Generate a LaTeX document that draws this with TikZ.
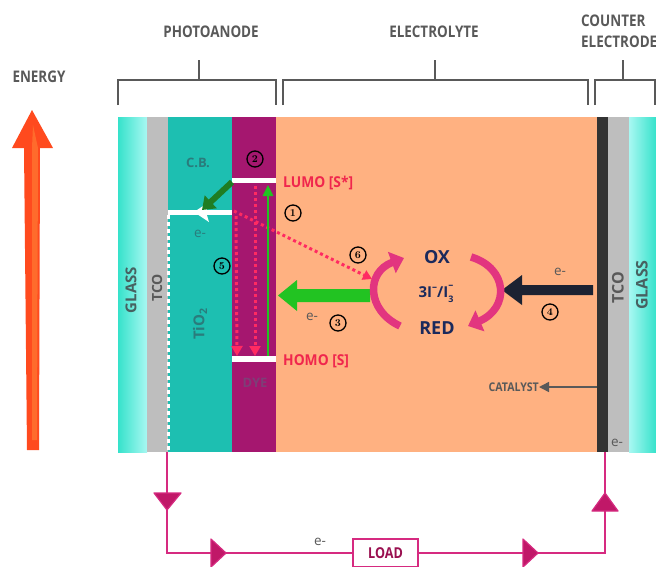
\documentclass[tikz,border=0pt]{standalone}
\usepackage{fontspec}
\usepackage{graphicx}
\setsansfont{Open Sans}
\usetikzlibrary{arrows.meta}
\definecolor{glassA}{HTML}{36E2CB}
\definecolor{glassB}{HTML}{A8F8F2}
\definecolor{tco}{HTML}{BEBEBE}
\definecolor{tio}{HTML}{1DBFB1}
\definecolor{dye}{HTML}{A5176F}
\definecolor{elec}{HTML}{FFB181}
\definecolor{cat}{HTML}{333333}
\definecolor{circ}{HTML}{D62A80}
\definecolor{tri}{HTML}{C01868}
\definecolor{lblgray}{HTML}{595959}
\definecolor{navy}{HTML}{1B2A5C}
\definecolor{lumored}{HTML}{F0264D}
\definecolor{dotred}{HTML}{FF2A62}
\definecolor{brgreen}{HTML}{22C322}
\definecolor{dkgreen}{HTML}{1F7D22}
\definecolor{darkarrow}{HTML}{1C2232}
\definecolor{curv}{HTML}{E2357F}
\definecolor{energyA}{HTML}{FF4A1E}
\definecolor{energyB}{HTML}{FF6B2C}
\definecolor{tealtxt}{HTML}{2A7C7C}
\definecolor{dyetxt}{HTML}{7E3E77}
\definecolor{loadtxt}{HTML}{9A1050}
\newcommand{\cnd}[2][0.84]{\scalebox{#1}[1]{#2}}
\begin{document}
\begin{tikzpicture}[x=1pt,y=-1pt,
  head/.style={font=\sffamily\bfseries\fontsize{16}{16}\selectfont, text=lblgray, inner sep=0pt},
  bracket/.style={draw=lblgray, line width=2.4pt},
  num/.style={circle, draw=black, line width=1.3pt, minimum size=16pt, inner sep=0pt, font=\rmfamily\bfseries\fontsize{10.5}{10.5}\selectfont},
  elab/.style={font=\sffamily\fontsize{13.5}{13.5}\selectfont, text=lblgray, inner sep=0pt},
  rotlab/.style={font=\sffamily\bfseries\fontsize{14}{14}\selectfont, rotate=90, inner sep=0pt},
  lvl/.style={font=\sffamily\bfseries\fontsize{15}{15}\selectfont, text=lumored, inner sep=0pt, anchor=west},
  redox/.style={font=\sffamily\bfseries\fontsize{18}{18}\selectfont, text=navy, inner sep=0pt},
  dotline/.style={draw=dotred, line width=3pt, dash pattern=on 3pt off 3pt},
  circwire/.style={draw=circ, line width=2.5pt},
  tritip/.style={fill=tri, draw=circ, line width=1.2pt, line join=round}
]
\useasboundingbox (0,0) rectangle (656,566);

% ---------- layers ----------
\fill[left color=glassA, right color=glassB] (118,117) rectangle (147,452);
\fill[tco] (147,117) rectangle (168,452);
\fill[tio] (168,117) rectangle (232,452);
\fill[dye] (232,117) rectangle (276,452);
\fill[elec] (276,117) rectangle (597,452);
\fill[cat] (597,117) rectangle (608,452);
\fill[tco] (608,117) rectangle (629,452);
\fill[left color=glassB, right color=glassA] (629,117) rectangle (656,452);

% ---------- energy arrow ----------
\fill[energyA] (32,110) -- (53,148) -- (40,148) -- (39,450) -- (27,450) -- (24,148) -- (12,148) -- cycle;
\fill[energyB] (33,125) -- (38,148) -- (37,440) -- (32,440) -- (32,148) -- cycle;
\node[head] (energy) at (39,77) {\cnd{ENERGY}};

% ---------- brackets ----------
\node[head] (photo) at (211,32) {\cnd{PHOTOANODE}};
\node[head] (electro) at (434,32) {\cnd{ELECTROLYTE}};
\node[head, anchor=west] (counter) at (581,21) {\cnd{COUNTER}};
\node[head, anchor=west] (celec) at (581,42) {\cnd{ELECTRODE}};
\draw[bracket] (118,105) -- (118,80) -- (276,80) -- (276,105);
\draw[bracket] (199,60) -- (199,80);
\draw[bracket] (283,105) -- (283,80) -- (588,80) -- (588,105);
\draw[bracket] (435,60) -- (435,80);
\draw[bracket] (595,105) -- (595,80) -- (655,80) -- (655,105);
\draw[bracket] (623,60) -- (623,80);

% ---------- layer labels ----------
\node[rotlab, text=lblgray!80!teal, font=\sffamily\bfseries\fontsize{15}{15}\selectfont] (glassL) at (131,290) {GLASS};
\node[rotlab, text=lblgray] (tcoL) at (157,288) {TCO};
\node[rotlab, text=tealtxt, font=\sffamily\bfseries\fontsize{15}{15}\selectfont] (tioL) at (200,324) {TiO\textsubscript{2}};
\node[rotlab, text=lblgray, font=\sffamily\bfseries\fontsize{16}{16}\selectfont] (tcoR) at (618,288) {TCO};
\node[rotlab, text=lblgray!80!teal, font=\sffamily\bfseries\fontsize{16}{16}\selectfont] (glassR) at (642,285) {GLASS};
\node[font=\sffamily\bfseries\fontsize{13}{13}\selectfont, text=dyetxt, inner sep=0pt] (dyeL) at (255,383) {DYE};
\node[font=\sffamily\bfseries\fontsize{13}{13}\selectfont, text=tealtxt, inner sep=0pt] (cb) at (198,163) {C.B.};
\node[elab, text=tealtxt] (ecb) at (200,234) {e-};

% ---------- energy levels ----------
\draw[white, line width=5pt] (232,180) -- (276,180);
\draw[white, line width=6pt] (232,359) -- (276,359);
\node[lvl] (lumo) at (283,183) {\cnd[0.92]{LUMO [S*]}};
\node[lvl] (homo) at (283,361) {\cnd[0.92]{HOMO [S]}};

% conduction band line with arrow
\draw[white, line width=5pt] (168,212) -- (232,212);
\fill[white] (194,212) -- (209,202) -- (206,212) -- (209,222) -- cycle;
\draw[white, line width=3pt, dash pattern=on 4pt off 3pt] (168,215) -- (168,452);

% dark green injection arrow
\coordinate (injS) at (232,182);
\coordinate (injE) at (202,210);
\draw[dkgreen, line width=6pt, -{Triangle[length=12pt,width=17pt]}] (injS) -- (injE);

% ---------- dotted red recombination lines ----------
\coordinate (rS) at (234,211);
\coordinate (rE) at (372,279);
\draw[dotline, -{Triangle[length=9pt,width=10pt]}] (rS) -- (rE);
\draw[dotline, -{Triangle[length=10pt,width=11pt]}] (236,216) -- (237,356);
\draw[dotline, -{Triangle[length=10pt,width=11pt]}] (255,186) -- (255,356);

% green excitation arrow
\draw[brgreen, line width=2.5pt, -{Triangle[length=11pt,width=10pt]}] (268,356) -- (268,185);

% ---------- big arrows ----------
\fill[brgreen] (370,289) -- (297,289) -- (297,280) -- (278,295.5) -- (297,311) -- (297,302) -- (370,302) -- cycle;
\fill[darkarrow] (593,285) -- (522,285) -- (522,275) -- (502,290) -- (522,305) -- (522,295) -- (593,295) -- cycle;
\node[elab] (e3) at (312,317) {e-};
\node[elab] (e4) at (560,272) {e-};

% ---------- redox ----------
\node[redox] (ox) at (437,257) {OX};
\node[font=\sffamily\bfseries\fontsize{15}{15}\selectfont, text=navy, inner sep=0pt] (iod) at (436,294)
  {3I\raisebox{0.5em}{\fontsize{10}{10}\selectfont\textendash}/I\rlap{\raisebox{-0.3em}{\fontsize{9}{9}\selectfont 3}}\raisebox{0.62em}{\fontsize{10}{10}\selectfont\textendash}};
\node[redox] (red) at (437,328) {RED};
\draw[curv, line width=7.5pt, -{Triangle[length=13pt,width=22pt]}] (400,326) .. controls (366,310) and (366,272) .. (404,258);
\draw[curv, line width=7.5pt, -{Triangle[length=13pt,width=22pt]}] (471,257) .. controls (508,268) and (510,308) .. (468,326);

% ---------- numbers ----------
\node[num] (n1) at (293,213) {1};
\node[num] (n2) at (255,159) {2};
\node[num] (n3) at (338,323) {3};
\node[num] (n4) at (550,312) {4};
\node[num] (n5) at (222,266) {5};
\node[num] (n6) at (358,255) {6};

% ---------- catalyst ----------
\coordinate (catP) at (597,387);
\node[font=\sffamily\bfseries\fontsize{12}{12}\selectfont, text=lblgray, inner sep=0pt, anchor=east] (catL) at (539,387) {\cnd[0.88]{CATALYST}};
\draw[lblgray, line width=1.5pt, -{Triangle[length=10pt,width=10pt]}] (catP) -- (catL.east);
\node[elab] (eB) at (617,443) {e-};

% ---------- external circuit ----------
\coordinate (aOut) at (167,452);
\coordinate (cIn) at (605,452);
\node[draw=circ, line width=2.5pt, fill=white, minimum width=65pt, minimum height=28pt, inner sep=0pt,
      font=\sffamily\bfseries\fontsize{15}{15}\selectfont, text=loadtxt] (load) at (385.5,553) {\cnd{LOAD}};
\draw[circwire] (aOut) |- (load.west);
\draw[circwire] (load.east) -| (cIn);
\node[elab] (eL) at (320,542) {e-};
\filldraw[tritip] (154,493) -- (181,493) -- (167,510) -- cycle;
\filldraw[tritip] (211,539) -- (226,553) -- (211,567) -- cycle;
\filldraw[tritip] (523,539) -- (538,553) -- (523,567) -- cycle;
\filldraw[tritip] (592,511) -- (618,511) -- (605,493) -- cycle;
\end{tikzpicture}
\end{document}
